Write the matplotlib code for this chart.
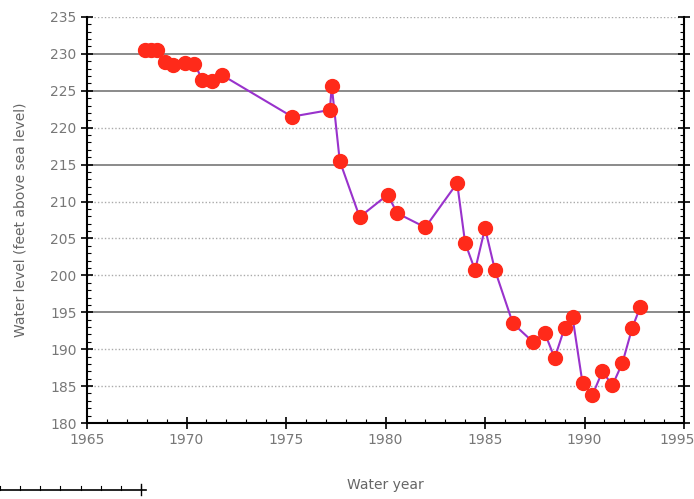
import numpy as np
import matplotlib
matplotlib.use("Agg")
import matplotlib.pyplot as plt
import matplotlib.transforms as mtransforms
from matplotlib.lines import Line2D
from matplotlib.ticker import MultipleLocator

# water year and level (feet above sea level)
years = [1967.9, 1968.2, 1968.5, 1968.9, 1969.3, 1969.9, 1970.4, 1970.8,
         1971.3, 1971.8, 1975.3, 1977.2, 1977.3, 1977.7, 1978.7, 1980.1,
         1980.6, 1982.0, 1983.6, 1984.0, 1984.5, 1985.0, 1985.5, 1986.4,
         1987.4, 1988.0, 1988.5, 1989.0, 1989.4, 1989.9, 1990.4, 1990.9,
         1991.4, 1991.9, 1992.4, 1992.8]
levels = [230.5, 230.5, 230.5, 228.9, 228.5, 228.8, 228.6, 226.5,
          226.3, 227.1, 221.5, 222.4, 225.6, 215.5, 207.9, 210.9,
          208.4, 206.5, 212.5, 204.4, 200.7, 206.4, 200.7, 193.5,
          191.0, 192.2, 188.8, 192.9, 194.3, 185.4, 183.8, 187.0,
          185.1, 188.1, 192.9, 195.7]

y_ticks = [180, 185, 190, 195, 200, 205, 210, 215, 220, 225, 230, 235]
x_ticks = [1965, 1970, 1975, 1980, 1985, 1990, 1995]
solid_grid = [195, 215, 225, 230]

fig = plt.figure(figsize=(6.94, 4.99), dpi=100)
ax = fig.add_axes([0.1254, 0.1523, 0.8602, 0.8137])

# horizontal grid, some lines look solid in the reference
for yv in y_ticks:
    if yv in solid_grid:
        ax.axhline(yv, color="#777777", lw=1.2, ls="-", zorder=1)
    else:
        ax.axhline(yv, color="#aaaaaa", lw=1.0, ls=(0, (1, 1.5)), zorder=1)

ax.plot(years, levels, color="#9932cc", lw=1.5, zorder=2)
ax.plot(years, levels, ls="none", marker="o", ms=10, mfc="#ff2a1a",
        mec="#ff2a1a", zorder=3)

ax.set_xlim(1965, 1995)
ax.set_ylim(180, 235)
ax.set_xticks(x_ticks)
ax.set_yticks(y_ticks)
ax.xaxis.set_minor_locator(MultipleLocator(1))
ax.yaxis.set_minor_locator(MultipleLocator(1))

ax.spines["top"].set_visible(False)
for s in ["left", "bottom", "right"]:
    ax.spines[s].set_linewidth(1.5)

ax.tick_params(which="major", direction="inout", length=8, width=1.2,
               labelsize=10, labelcolor="#777777", right=True)
ax.tick_params(which="minor", direction="in", length=3, width=0.8, right=True)

# last x label sits at the figure edge, keep it inside
last = ax.get_xticklabels()[-1]
last.set_ha("right")
last.set_transform(last.get_transform() +
                   mtransforms.ScaledTranslation(8 / 72, 0, fig.dpi_scale_trans))

ax.set_xlabel("Water year", fontsize=10, color="#666666", labelpad=22)
ax.set_ylabel("Water level (feet above sea level)", fontsize=10,
              color="#666666", labelpad=16)

# small scale-bar like mark at the bottom left
fig.add_artist(Line2D([0.0, 0.21], [0.018, 0.018], color="black", lw=1.2,
                      transform=fig.transFigure))
for xt in np.arange(0.0, 0.22, 0.029):
    fig.add_artist(Line2D([xt, xt], [0.018, 0.026], color="black", lw=0.8,
                          transform=fig.transFigure))
fig.add_artist(Line2D([0.203, 0.203], [0.008, 0.03], color="black", lw=1.0,
                      transform=fig.transFigure))

fig.savefig("out.png", dpi=100, facecolor="white")
